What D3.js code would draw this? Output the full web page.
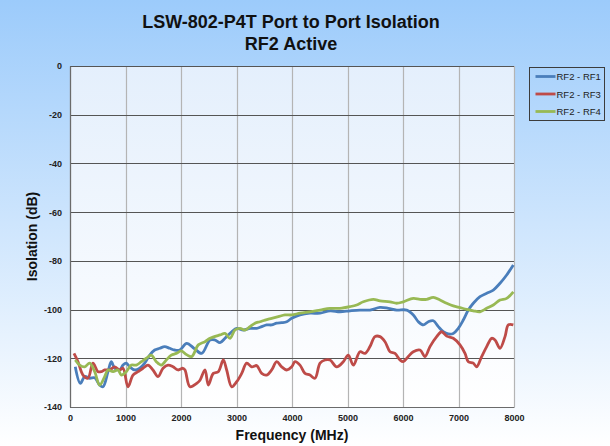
<!DOCTYPE html>
<html>
<head>
<meta charset="utf-8">
<script src="https://cdn.jsdelivr.net/npm/d3@7"></script>
<style>
  body { margin: 0; padding: 0; overflow: hidden; }
  svg { display: block; font-family: "Liberation Sans", Arial, sans-serif; }
</style>
</head>
<body>
<svg id="chart" width="610" height="446"></svg>
<script>
// readings: [MHz, dB]
const rf1 = [
  [95, -123.5], [186, -130.3], [265, -127.5], [355, -128.2], [445, -128], [535, -131],
  [595, -131.7], [685, -125.5], [744, -121.4], [805, -124.1], [895, -124.8], [955, -122.8],
  [1014, -122], [1076, -123.5], [1166, -124.8], [1256, -124.1], [1346, -122], [1436, -118.7],
  [1526, -116.6], [1616, -115.9], [1706, -115.2], [1796, -115.9], [1886, -116.6], [1977, -116.6],
  [2103, -113.9], [2240, -116], [2373, -118], [2523, -112.5], [2613, -112.5], [2703, -113.6],
  [2793, -111.8], [2914, -109.1], [3004, -107.7], [3123, -108.4], [3243, -107.7], [3364, -107.7],
  [3454, -107], [3544, -106.3], [3634, -106.3], [3724, -105.6], [3814, -105.4], [3905, -105],
  [3995, -103.6], [4144, -102.2], [4324, -101.5], [4505, -101.5], [4685, -100.5], [4865, -100.9],
  [5045, -100.5], [5225, -100.2], [5405, -100.2], [5586, -99.1], [5735, -99.5], [5886, -100.2],
  [6067, -100.2], [6186, -102.2], [6276, -105], [6366, -106.3], [6456, -105], [6546, -104.6],
  [6636, -107], [6726, -109.1], [6816, -110], [6906, -109.8], [6996, -107.7], [7086, -104.3],
  [7177, -100.2], [7267, -97.4], [7387, -94.7], [7508, -93.3], [7627, -92], [7748, -89.2],
  [7868, -85.8], [7988, -81.7]
];

const rf3 = [
  [72, -118], [144, -121.4], [234, -126.9], [324, -128.2], [414, -122], [505, -125.5],
  [564, -125.5], [625, -124.8], [715, -124.8], [805, -123.5], [895, -124.8], [955, -124.1],
  [1045, -131.7], [1135, -126.9], [1225, -125.5], [1315, -124.1], [1405, -122.8], [1495, -124.8],
  [1586, -127.5], [1676, -124.1], [1766, -122.8], [1856, -123.5], [1946, -124.8], [2036, -124.1],
  [2072, -124.8], [2162, -131.7], [2283, -130.3], [2342, -129], [2432, -124.8], [2492, -131],
  [2582, -126.2], [2672, -125.5], [2762, -120.7], [2823, -124.8], [2914, -131.7], [3004, -129.6],
  [3094, -126.2], [3184, -122], [3274, -123.5], [3364, -123], [3454, -126.2], [3544, -126.9],
  [3634, -124.8], [3724, -121.4], [3814, -123.5], [3905, -124.8], [3995, -123.5], [4054, -121.4],
  [4144, -122.8], [4234, -126.2], [4324, -126.9], [4414, -128.2], [4505, -122], [4595, -120.7],
  [4685, -120.7], [4805, -123.5], [4924, -121.4], [5014, -118.7], [5105, -122.8], [5225, -117.3],
  [5315, -118], [5405, -115.2], [5495, -111.1], [5586, -111.1], [5676, -113.2], [5766, -117.3],
  [5856, -118], [5946, -120.7], [6005, -121.4], [6095, -119.3], [6186, -117.3], [6306, -116.6],
  [6396, -119.3], [6486, -115.2], [6607, -111.1], [6697, -109.1], [6787, -110.9], [6906, -111.8],
  [7027, -114.5], [7117, -118], [7177, -121.4], [7267, -122], [7327, -123.5], [7417, -119.3],
  [7508, -115.2], [7598, -111.8], [7658, -112.5], [7748, -115.9], [7838, -111.1], [7898, -106.3],
  [7988, -106.3]
];

const rf4 = [
  [95, -120.7], [175, -122.8], [265, -123.5], [355, -122], [445, -125.5], [535, -131],
  [625, -127.5], [685, -124.8], [775, -125.5], [865, -124.8], [924, -126.9], [1014, -125.5],
  [1105, -122.8], [1195, -122.8], [1285, -121.4], [1375, -120], [1465, -118.7], [1555, -121.4],
  [1645, -122.8], [1735, -120.7], [1825, -118.7], [1915, -118], [2005, -117], [2100, -118.5],
  [2193, -119.3], [2312, -114.5], [2432, -113.2], [2523, -111.8], [2703, -110.4], [2793, -109.8],
  [2883, -111.8], [2973, -108.4], [3063, -107.7], [3153, -108.4], [3243, -107], [3333, -105.6],
  [3423, -105], [3514, -104.3], [3634, -103.6], [3753, -102.9], [3874, -102.2], [3995, -102.2],
  [4144, -101.5], [4324, -100.9], [4505, -100.2], [4685, -99.5], [4865, -99.5], [5045, -98.8],
  [5165, -98.1], [5285, -96.8], [5465, -95.8], [5586, -96.4], [5766, -96.8], [5886, -97.4],
  [6005, -96.8], [6186, -95.4], [6306, -95.8], [6427, -95.8], [6546, -95], [6667, -96.1],
  [6787, -97.4], [6906, -98.5], [7027, -99.2], [7147, -99.9], [7267, -100.5], [7387, -100.9],
  [7508, -99.5], [7627, -98.1], [7748, -96.1], [7868, -95.4], [7988, -92.7]
];

const seriesNames = ["RF2 - RF1", "RF2 - RF3", "RF2 - RF4"];
const seriesData = [rf1, rf3, rf4];
const xTicks = [0, 1000, 2000, 3000, 4000, 5000, 6000, 7000, 8000];
const yTicks = [0, -20, -40, -60, -80, -100, -120, -140];

const W = 610, H = 446;
const margin = { top: 66, right: 96, bottom: 39, left: 70 },
      width = W - margin.left - margin.right,
      height = H - margin.top - margin.bottom;

const colors = ["#4a7ebb", "#be4b48", "#98b954"];

const svg = d3.select("#chart");
const defs = svg.append("defs");

const bgGrad = defs.append("linearGradient").attr("id", "bg")
  .attr("x1", 0).attr("y1", 0).attr("x2", 0).attr("y2", 1);
bgGrad.append("stop").attr("offset", "0%").attr("stop-color", "#9ccbfb");
bgGrad.append("stop").attr("offset", "100%").attr("stop-color", "#ffffff");

const plotGrad = defs.append("linearGradient").attr("id", "plotbg")
  .attr("x1", 0).attr("y1", 0).attr("x2", 0).attr("y2", 1);
plotGrad.append("stop").attr("offset", "0%").attr("stop-color", "#e4effc");
plotGrad.append("stop").attr("offset", "100%").attr("stop-color", "#ffffff");

svg.append("rect").attr("width", W).attr("height", H).attr("fill", "url(#bg)");

const g = svg.append("g")
  .attr("transform", `translate(${margin.left},${margin.top})`);

const x = d3.scaleLinear().domain([0, 8000]).range([0, width]);
const y = d3.scaleLinear().domain([-140, 0]).range([height, 0]);

g.append("rect")
  .attr("width", width)
  .attr("height", height)
  .attr("fill", "url(#plotbg)");

// vertical grid
g.append("g")
  .selectAll("line")
  .data(xTicks)
  .join("line")
  .attr("x1", d => Math.round(x(d)) + 0.5)
  .attr("x2", d => Math.round(x(d)) + 0.5)
  .attr("y1", 0)
  .attr("y2", height)
  .attr("stroke", "#b4b4b4")
  .attr("stroke-width", 1.2);

// horizontal grid
g.append("g")
  .selectAll("line")
  .data(yTicks)
  .join("line")
  .attr("x1", 0)
  .attr("x2", width)
  .attr("y1", d => Math.round(y(d)) + 0.5)
  .attr("y2", d => Math.round(y(d)) + 0.5)
  .attr("stroke", "#555")
  .attr("stroke-width", 1);

// axes, plain hyphen minus and no thousands separator
const plain = d => String(d);
const xAxis = g.append("g")
  .attr("transform", `translate(0,${height})`)
  .call(d3.axisBottom(x).tickValues(xTicks).tickFormat(plain).tickSize(0).tickPadding(8));
const yAxis = g.append("g")
  .call(d3.axisLeft(y).tickValues(yTicks).tickFormat(plain).tickSize(0).tickPadding(8));

[xAxis, yAxis].forEach(a => {
  a.select(".domain").attr("stroke", "#6b6b6b").attr("stroke-width", 1.2);
  a.selectAll("text")
    .attr("font-family", "'Liberation Sans', Arial, sans-serif")
    .attr("font-size", "9px")
    .attr("font-weight", "bold")
    .attr("fill", "#222");
});

// lines
const line = d3.line()
  .x(d => x(d[0]))
  .y(d => y(d[1]))
  .curve(d3.curveCatmullRom.alpha(0.5));

seriesData.forEach((data, i) => {
  g.append("path")
    .datum(data)
    .attr("fill", "none")
    .attr("stroke", colors[i])
    .attr("stroke-width", 2.8)
    .attr("stroke-linejoin", "round")
    .attr("d", line);
});

// titles
svg.append("text")
  .attr("x", 291).attr("y", 28)
  .attr("text-anchor", "middle")
  .attr("font-size", "18px").attr("font-weight", "bold").attr("fill", "#111")
  .text("LSW-802-P4T Port to Port Isolation");
svg.append("text")
  .attr("x", 291).attr("y", 50)
  .attr("text-anchor", "middle")
  .attr("font-size", "18px").attr("font-weight", "bold").attr("fill", "#111")
  .text("RF2 Active");

svg.append("text")
  .attr("x", 292).attr("y", 440)
  .attr("text-anchor", "middle")
  .attr("font-size", "14px").attr("font-weight", "bold").attr("fill", "#111")
  .text("Frequency (MHz)");

svg.append("text")
  .attr("transform", `translate(37,${margin.top + height / 2}) rotate(-90)`)
  .attr("text-anchor", "middle")
  .attr("font-size", "14px").attr("font-weight", "bold").attr("fill", "#111")
  .text("Isolation (dB)");

// legend
const legend = svg.append("g").attr("transform", "translate(529.5,67.5)");
legend.append("rect")
  .attr("width", 75).attr("height", 53)
  .attr("fill", "none").attr("stroke", "#3c3c3c").attr("stroke-width", 1);

seriesNames.forEach((name, i) => {
  const item = legend.append("g").attr("transform", `translate(0, ${9 + i * 17.5})`);
  item.append("line")
    .attr("x1", 6).attr("x2", 26)
    .attr("stroke", colors[i]).attr("stroke-width", 2.8);
  item.append("text")
    .attr("x", 27).attr("y", 3.5)
    .attr("font-size", "9.5px").attr("fill", "#222")
    .text(name);
});
</script>
</body>
</html>
